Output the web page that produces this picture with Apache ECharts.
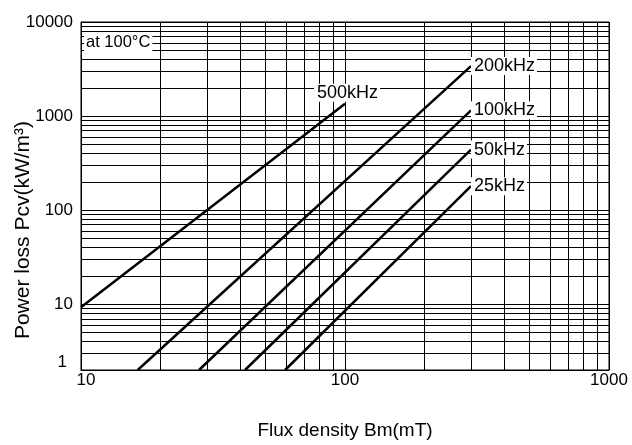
<!DOCTYPE html>
<html>

<head>
    <meta charset="UTF-8">
    <script src="https://cdn.jsdelivr.net/npm/echarts@6.0.0/dist/echarts.min.js"></script>
</head>

<body style="margin: 0;">
    <div id="main" style="width: 632px; height: 445px;"></div>
    <script>
        // tick labels (bottom gridline is printed as "1" on the original sheet)
        var xTickLabels = ['10', '100', '1000'];
        var yTickLabels = ['1', '10', '100', '1000', '10000'];

        // curves: flux density Bm (mT) -> power loss Pcv (kW/m3)
        var freqNames = ['500kHz', '200kHz', '100kHz', '50kHz', '25kHz'];
        var bm500 = [10, 100];
        var pcv500 = [9.3, 1350];
        var bm200 = [16.4, 300];
        var pcv200 = [2, 3400];
        var bm100 = [28, 300];
        var pcv100 = [2, 1150];
        var bm50 = [41.8, 300];
        var pcv50 = [2, 440];
        var bm25 = [59.3, 300];
        var pcv25 = [2, 180];

        var noteText = 'at 100°C';

        var bmList = [bm500, bm200, bm100, bm50, bm25];
        var pcvList = [pcv500, pcv200, pcv100, pcv50, pcv25];

        // minor log gridlines 2..9 of each decade
        var xMinor = [];
        [10, 100].forEach(function (d) {
            for (var k = 2; k <= 9; k++) xMinor.push(k * d);
        });
        var yMinor = [];
        [1, 10, 100, 1000].forEach(function (d) {
            for (var k = 2; k <= 9; k++) {
                if (k * d > 2) yMinor.push(k * d);
            }
        });

        var font = '"Liberation Sans", Arial, sans-serif';
        var myChart = echarts.init(document.getElementById('main'));

        var gridLines = [];
        xMinor.forEach(function (v) { gridLines.push({ xAxis: v }); });
        yMinor.forEach(function (v) { gridLines.push({ yAxis: v }); });

        var series = [{
            type: 'line',
            data: [],
            silent: true,
            markLine: {
                z: 1,
                silent: true,
                symbol: ['none', 'none'],
                label: { show: false },
                lineStyle: { color: '#000', width: 1, type: 'solid' },
                animation: false,
                data: gridLines
            }
        }];

        freqNames.forEach(function (name, i) {
            var xs = bmList[i], ys = pcvList[i];
            var data = [];
            for (var j = 0; j < xs.length; j++) {
                var item = { value: [xs[j], ys[j]] };
                if (j === xs.length - 1) {
                    item.label = {
                        show: true,
                        formatter: name,
                        position: i === 0 ? 'top' : 'right',
                        distance: i === 0 ? 2 : 0,
                        offset: i === 0 ? [2, 0] : [0, 0],
                        color: '#000',
                        fontFamily: font,
                        fontSize: 18,
                        backgroundColor: '#fff',
                        padding: [0, 2, 0, 3]
                    };
                }
                data.push(item);
            }
            series.push({
                name: name,
                type: 'line',
                z: 3,
                data: data,
                symbol: 'circle',
                symbolSize: 0,
                showSymbol: true,
                lineStyle: { color: '#000', width: 2.5 },
                itemStyle: { color: '#000' },
                animation: false
            });
        });

        var option = {
            backgroundColor: '#fff',
            animation: false,
            title: {
                text: noteText,
                left: 84,
                top: 34,
                padding: [0, 2, 0, 2],
                backgroundColor: '#fff',
                textStyle: { color: '#000', fontFamily: font, fontSize: 16.5, fontWeight: 'normal' }
            },
            grid: {
                left: 81,
                right: 23,
                top: 22,
                bottom: 75,
                show: true,
                borderColor: '#000',
                borderWidth: 1,
                backgroundColor: 'transparent',
                outerBoundsMode: 'none'
            },
            xAxis: {
                type: 'log',
                logBase: 10,
                min: 10,
                max: 1000,
                name: 'Flux density Bm(mT)',
                nameLocation: 'middle',
                nameGap: 51,
                nameMoveOverlap: false,
                nameTextStyle: { color: '#000', fontFamily: font, fontSize: 19 },
                axisLine: { show: true, lineStyle: { color: '#000', width: 1 } },
                axisTick: { show: false },
                splitLine: { show: true, lineStyle: { color: '#000', width: 1 } },
                axisLabel: {
                    margin: 2,
                    color: '#000',
                    fontFamily: font,
                    fontSize: 17,
                    formatter: function (v, idx) {
                        if (idx === 0) return '{first|' + xTickLabels[0] + '}';
                        return xTickLabels[idx] || '';
                    },
                    rich: {
                        first: { fontFamily: font, fontSize: 17, color: '#000', padding: [0, 0, 0, 10] }
                    }
                }
            },
            yAxis: {
                type: 'log',
                logBase: 10,
                min: 2,
                max: 10000,
                name: 'Power loss Pcv(kW/m³)',
                nameLocation: 'middle',
                nameGap: 47,
                nameMoveOverlap: false,
                nameRotate: 90,
                nameTextStyle: { color: '#000', fontFamily: font, fontSize: 21, padding: [0, 68, 0, 0] },
                axisLine: { show: true, lineStyle: { color: '#000', width: 1 } },
                axisTick: { show: false },
                splitLine: { show: true, lineStyle: { color: '#000', width: 1 } },
                axisLabel: {
                    margin: 8,
                    color: '#000',
                    fontFamily: font,
                    fontSize: 17,
                    formatter: function (v, idx) {
                        if (idx === 0) return '{first|' + yTickLabels[0] + '}';
                        return yTickLabels[idx] || '';
                    },
                    rich: {
                        first: { fontFamily: font, fontSize: 17, color: '#000', padding: [0, 6, 16, 0] }
                    }
                }
            },
            series: series
        };

        myChart.setOption(option);
    </script>
</body>

</html>
